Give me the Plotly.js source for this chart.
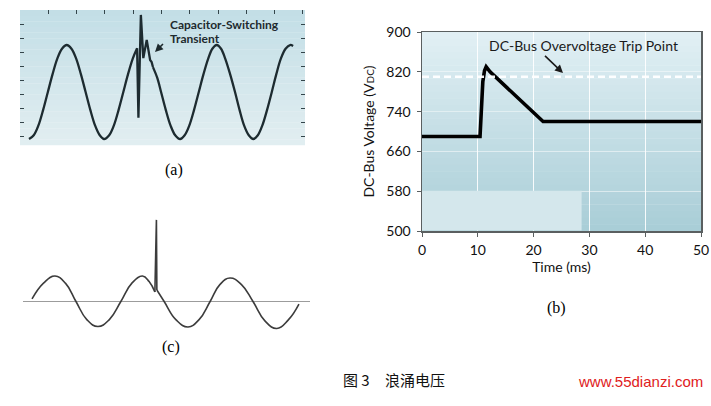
<!DOCTYPE html>
<html>
<head>
<meta charset="utf-8">
<script src="https://cdn.plot.ly/plotly-3.0.1.min.js"></script>
<style>html,body{margin:0;padding:0;background:#fff;}#chart{width:711px;height:406px;}</style>
</head>
<body>
<div id="chart"></div>
<script>
// ---------- Panel (a): line voltage with capacitor-switching transient ----------
// x in quarter-cycle units (one cycle = 4), y in per-unit amplitude
const a_wave1_x = [0, 0.25, 0.5, 0.75, 1, 1.25, 1.5, 1.75, 2, 2.25, 2.5, 2.75, 3, 3.25, 3.5, 3.75, 3.98, 4.25, 4.5, 4.75, 5, 5.25, 5.5, 5.73];
const a_wave1_y = [-1, -0.92, -0.71, -0.38, 0, 0.38, 0.71, 0.92, 1, 0.92, 0.71, 0.38, 0, -0.38, -0.71, -0.92, -1, -0.92, -0.71, -0.38, 0, 0.38, 0.71, 0.93];
const a_trans_x = [5.73, 5.80, 5.93, 6.06, 6.24, 6.42, 6.50, 6.57];
const a_trans_y = [0.93, -0.55, 1.64, 0.72, 1.11, 0.68, 0.64, 0.53];
const a_wave2_x = [6.57, 6.8, 7.0, 7.25, 7.5, 7.75, 8.01, 8.25, 8.5, 8.75, 9.0, 9.25, 9.5, 9.72, 9.95, 10.18, 10.4, 10.66, 10.92, 11.16, 11.4, 11.65, 11.89, 12.13, 12.37, 12.62, 12.87, 13.11, 13.35, 13.6, 13.84, 14.0];
const a_wave2_y = [0.53, 0.3, 0, -0.38, -0.71, -0.92, -1, -0.92, -0.71, -0.38, 0, 0.38, 0.71, 0.92, 1, 0.92, 0.71, 0.38, 0, -0.38, -0.71, -0.92, -1, -0.92, -0.71, -0.38, 0, 0.38, 0.71, 0.92, 1, 0.98];

// ---------- Panel (b): DC-bus voltage vs time ----------
const b_time = [0, 10.4, 10.9, 11.2, 11.5, 12.2, 21.7, 50];
const b_volt = [690, 690, 800, 822, 830, 820, 720, 720];
const b_trip = 810;
const b_xticks = [0, 10, 20, 30, 40, 50];
const b_yticks = [500, 580, 660, 740, 820, 900];

// ---------- Panel (c): sine with a voltage spike ----------
const c_wave1_x = [0, 2.6, 5.2, 7.6, 9.95, 12.4, 14.9, 17.5, 20.1, 22.6, 25.0, 26.5, 27.8];
const c_wave1_y = [0.1, 0.72, 1.0, 0.71, 0, -0.71, -0.98, -0.71, 0, 0.72, 1.0, 0.78, 0.37];
const c_spike_x = [27.8, 28.15, 28.25];
const c_spike_y = [0.37, 3.2, 0.45];
const c_wave2_x = [28.25, 29.9, 32.6, 35.3, 37.8, 40.3, 42.5, 44.8, 47.4, 50.0, 52.7, 55.4, 58.0, 60.4];
const c_wave2_y = [0.45, 0, -0.72, -1.0, -0.71, 0, 0.66, 0.92, 0.66, 0, -0.76, -1.06, -0.72, -0.1];

// ---------- Texts ----------
const labelA = '(a)', labelB = '(b)', labelC = '(c)';
const annotA = ['Capacitor-Switching', 'Transient'];
const annotB = 'DC-Bus Overvoltage Trip Point';
const captionFig = '图 3';
const captionText = '浪涌电压';
const siteText = 'www.55dianzi.com';

const W = 711, H = 406;
const px = v => v / W;
const py = v => 1 - v / H;

function gradientBands(xref, yref, top, bottom, n) {
  const out = [];
  for (let i = 0; i < n; i++) {
    const t = (i + 0.5) / n; // 0 at top
    const c = top.map((v, k) => Math.round(v + (bottom[k] - v) * t));
    out.push({
      type: 'rect', xref: xref, yref: yref, layer: 'below',
      x0: 0, x1: 1, y0: 1 - (i + 1) / n - 0.002, y1: 1 - i / n,
      fillcolor: 'rgb(' + c.join(',') + ')', line: {width: 0}
    });
  }
  return out;
}

const darkA = '#1d2b30';
const traces = [
  {x: a_wave1_x, y: a_wave1_y, xaxis: 'x', yaxis: 'y', mode: 'lines', line: {color: darkA, width: 2.3, shape: 'spline', smoothing: 1.0}},
  {x: a_trans_x, y: a_trans_y, xaxis: 'x', yaxis: 'y', mode: 'lines', line: {color: darkA, width: 2.3}},
  {x: a_wave2_x, y: a_wave2_y, xaxis: 'x', yaxis: 'y', mode: 'lines', line: {color: darkA, width: 2.3, shape: 'spline', smoothing: 1.0}},
  {x: b_time, y: b_volt, xaxis: 'x2', yaxis: 'y2', mode: 'lines', line: {color: '#000', width: 3.6}},
  {x: c_wave1_x, y: c_wave1_y, xaxis: 'x3', yaxis: 'y3', mode: 'lines', line: {color: '#3c3c3c', width: 1.6, shape: 'spline', smoothing: 1.3}},
  {x: c_spike_x, y: c_spike_y, xaxis: 'x3', yaxis: 'y3', mode: 'lines', line: {color: '#3c3c3c', width: 1.6}},
  {x: c_wave2_x, y: c_wave2_y, xaxis: 'x3', yaxis: 'y3', mode: 'lines', line: {color: '#3c3c3c', width: 1.6, shape: 'spline', smoothing: 1.3}}
];

const shapes = []
  .concat(gradientBands('x domain', 'y domain', [194, 222, 230], [226, 238, 241], 24))
  .concat(gradientBands('x2 domain', 'y2 domain', [226, 240, 244], [168, 205, 215], 30));
// lighter patch (scan artifact) in lower-left of panel (b)
shapes.push({type: 'rect', xref: 'x2', yref: 'y2', layer: 'above', x0: 0, x1: 28.6, y0: 501, y1: 581,
  fillcolor: 'rgb(212,231,236)', line: {width: 0}});
// trip point dashed line
shapes.push({type: 'line', xref: 'x2', yref: 'y2', x0: 0, x1: 50, y0: b_trip, y1: b_trip,
  layer: 'above', line: {color: 'rgba(255,255,255,0.95)', width: 2.5, dash: '7px,4px'}});

const gill = 'Lato, "Open Sans", sans-serif';
const annotations = [
  {xref: 'paper', yref: 'paper', x: px(168), y: py(25), xanchor: 'left', yanchor: 'middle', showarrow: false,
   text: annotA[0], font: {family: gill, size: 12, color: '#1e2a2e', weight: 'bold'}},
  {xref: 'paper', yref: 'paper', x: px(168), y: py(38), xanchor: 'left', yanchor: 'middle', showarrow: false,
   text: annotA[1], font: {family: gill, size: 12, color: '#1e2a2e', weight: 'bold'}},
  {xref: 'paper', yref: 'paper', x: px(155), y: py(52), text: ' ', showarrow: true, ax: 11, ay: -11,
   arrowhead: 2, arrowsize: 1, arrowwidth: 1.6, arrowcolor: '#1e2a2e'},
  {xref: 'paper', yref: 'paper', x: px(583), y: py(45), xanchor: 'center', yanchor: 'middle', showarrow: false,
   text: annotB, font: {family: gill, size: 14, color: '#1a1a1a'}},
  {xref: 'paper', yref: 'paper', x: px(563), y: py(73), text: ' ', showarrow: true, ax: -21, ay: -20,
   arrowhead: 2, arrowsize: 1, arrowwidth: 1.6, arrowcolor: '#1a1a1a'},
  {xref: 'paper', yref: 'paper', x: px(163), y: py(170), showarrow: false, text: labelA,
   font: {family: '"Liberation Serif", serif', size: 16, color: '#000'}},
  {xref: 'paper', yref: 'paper', x: px(568), y: py(319), showarrow: false, text: labelB,
   font: {family: '"Liberation Serif", serif', size: 16, color: '#000'}},
  {xref: 'paper', yref: 'paper', x: px(160), y: py(358), showarrow: false, text: labelC,
   font: {family: '"Liberation Serif", serif', size: 16, color: '#000'}},
  {xref: 'paper', yref: 'paper', x: px(341), y: py(392), xanchor: 'left', showarrow: false, text: captionFig,
   font: {family: '"Noto Sans CJK SC", sans-serif', size: 15, color: '#111'}},
  {xref: 'paper', yref: 'paper', x: px(383), y: py(392), xanchor: 'left', showarrow: false, text: captionText,
   font: {family: '"Noto Sans CJK SC", sans-serif', size: 15, color: '#111'}},
  {xref: 'paper', yref: 'paper', x: px(640), y: py(392), xanchor: 'center', showarrow: false, text: siteText,
   font: {family: '"Liberation Sans", Arial, sans-serif', size: 15, color: '#e0201c'}}
];

const layout = {
  width: W, height: H,
  margin: {l: 0, r: 0, t: 0, b: 0},
  paper_bgcolor: '#ffffff', plot_bgcolor: 'rgba(0,0,0,0)',
  showlegend: false,
  xaxis: {domain: [px(20), px(305)], range: [-0.477, 14.63], anchor: 'y', side: 'top',
    showgrid: false, zeroline: false, showline: false, showticklabels: false,
    ticks: 'inside', ticklen: 4, tickwidth: 1, tickcolor: '#34454b', tick0: -0.477, dtick: 1.5},
  yaxis: {domain: [py(145), py(10)], range: [-1.128, 1.745], anchor: 'x',
    showgrid: false, zeroline: false, showline: false, showticklabels: false, mirror: 'ticks',
    ticks: 'inside', ticklen: 4, tickwidth: 1, tickcolor: '#34454b', tick0: 1.447, dtick: 0.3},
  xaxis2: {domain: [px(422), px(701)], range: [0, 50], anchor: 'y2',
    tickvals: b_xticks, ticktext: b_xticks.map(String),
    showgrid: true, gridcolor: 'rgba(255,255,255,0.9)', gridwidth: 1.3, zeroline: false,
    showline: true, linecolor: '#5a5f60', linewidth: 1.5, mirror: true,
    ticks: 'outside', ticklen: 4, tickcolor: '#5a5f60', ticklabelstandoff: 2,
    tickfont: {family: gill, size: 14, color: '#111'},
    title: {text: 'Time (ms)', font: {family: gill, size: 14, color: '#111'}, standoff: 4}},
  yaxis2: {domain: [py(231), py(32)], range: [500, 900], anchor: 'x2',
    tickvals: b_yticks, ticktext: b_yticks.map(String),
    showgrid: true, gridcolor: 'rgba(255,255,255,0.45)', gridwidth: 1, zeroline: false,
    showline: true, linecolor: '#5a5f60', linewidth: 1.5, mirror: true,
    ticks: 'outside', ticklen: 4, tickcolor: '#5a5f60', ticklabelstandoff: 3,
    tickfont: {family: gill, size: 14, color: '#111'},
    title: {text: 'DC-Bus Voltage (V<span style="font-size:10px">DC</span>)', font: {family: gill, size: 14, color: '#111'}, standoff: 8}},
  xaxis3: {domain: [px(23), px(310)], range: [-2.04, 62.9], anchor: 'y3', visible: false},
  yaxis3: {domain: [py(340), py(210)], range: [-1.51, 3.588], anchor: 'x3',
    showgrid: false, showline: false, showticklabels: false, ticks: '',
    zeroline: true, zerolinecolor: '#9c9c9c', zerolinewidth: 1.6},
  shapes: shapes,
  annotations: annotations
};

Plotly.newPlot('chart', traces, layout, {staticPlot: true, displayModeBar: false});
</script>
</body>
</html>
